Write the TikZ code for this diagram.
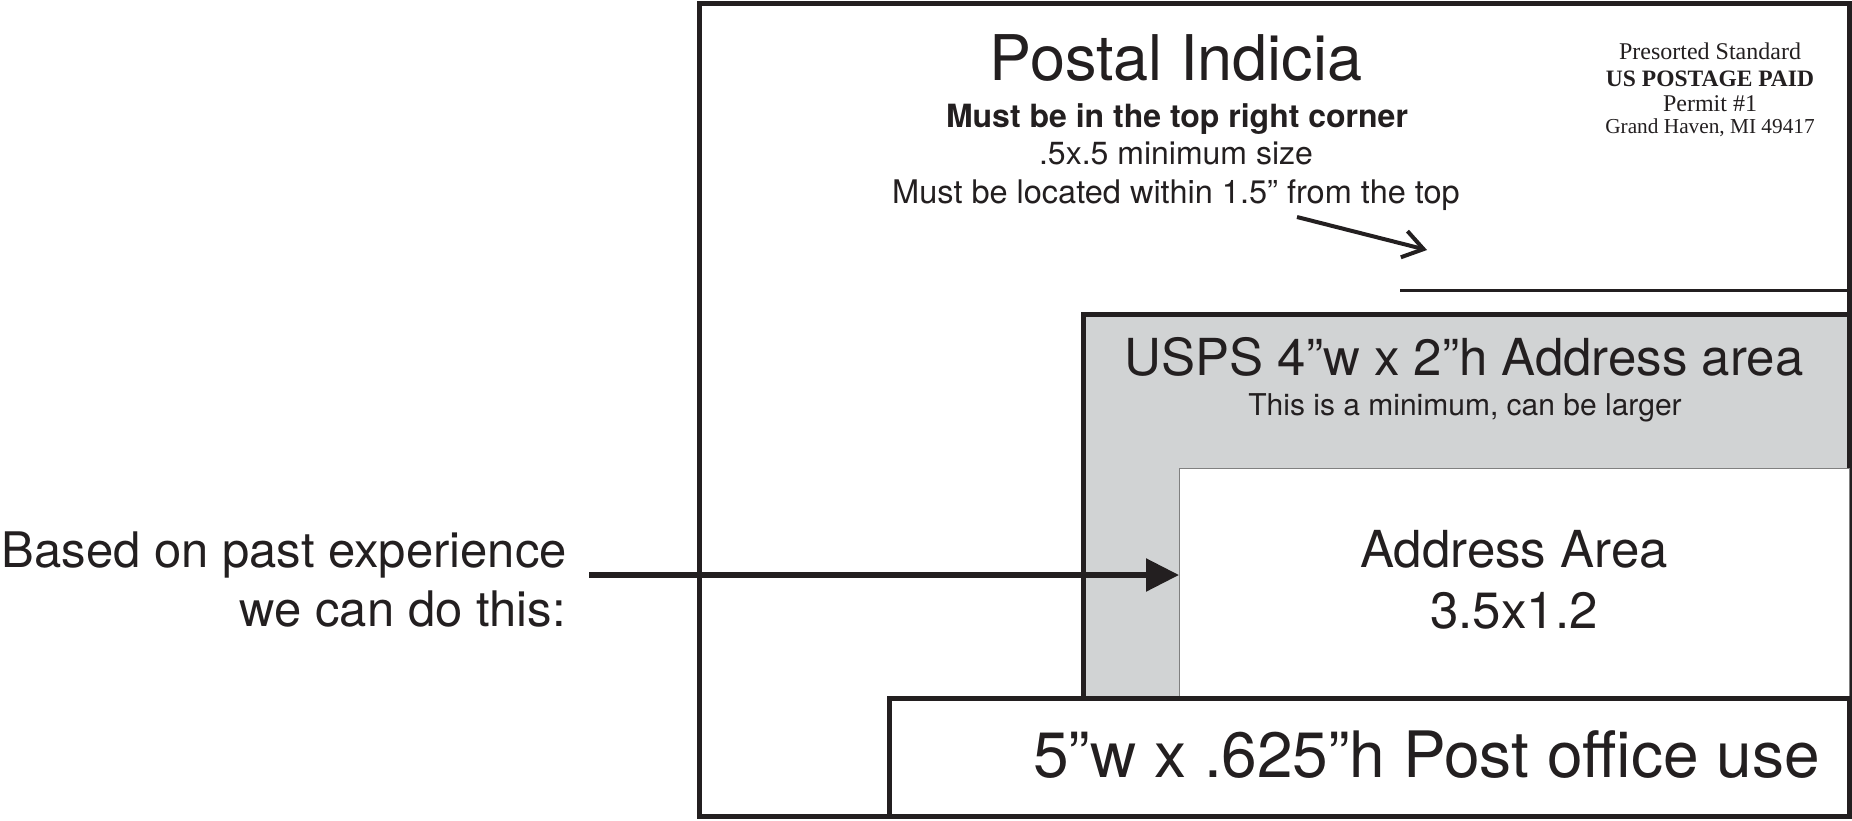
\documentclass[tikz,border=0pt]{standalone}
\usepackage{fontspec}
\setmainfont{TeX Gyre Heros}
\newfontfamily\timesfont{Liberation Serif}
\usetikzlibrary{arrows.meta}
\definecolor{ink}{HTML}{231F20}
\definecolor{areagray}{HTML}{D1D3D4}
\newcommand{\fsz}[1]{\fontsize{#1}{#1}\selectfont}
\begin{document}
\begin{tikzpicture}[x=1pt,y=-1pt,
    heavy/.style = {draw=ink,line width=5pt},
    txt/.style = {text=ink,inner sep=0pt,anchor=base},
    bigarrow/.style = {draw=ink,line width=5.5pt,-{Triangle[length=33pt,width=32pt]}},
    pointer/.style = {draw=ink,line width=4pt,-{Straight Barb[length=20pt,width=27pt]}}]
    \useasboundingbox (0,0) rectangle (1852,820);

    % card and the three areas
    \draw[heavy,fill=white] (699,3) rectangle (1849,816);
    \draw[ink,line width=3pt] (1400,290) -- (1849,290);
    \draw[heavy,fill=areagray] (1083,314) rectangle (1849,698);
    \node[draw=gray,line width=1pt,fill=white,inner sep=0pt,anchor=north west,
        minimum width=670pt,minimum height=230pt] (addrbox) at (1179,468) {};
    \draw[heavy,fill=white] (889,698) rectangle (1849,816);

    % indicia
    \node[txt,font=\fsz{63}] (title) at (1176,80) {Postal Indicia};
    \node[txt,font=\fsz{32}\bfseries] (corner) at (1177,127.5) {Must be in the top right corner};
    \node[txt,font=\fsz{32}] (minsize) at (1176,164) {.5x.5 minimum size};
    \node[txt,font=\fsz{32.5}] (within) at (1176,203) {Must be located within 1.5” from the top};
    \node[txt,font=\timesfont\fsz{24}] (presort) at (1710,59) {Presorted Standard};
    \node[txt,font=\timesfont\fsz{23.5}\bfseries] (paid) at (1710,86) {US POSTAGE PAID};
    \node[txt,font=\timesfont\fsz{24}] (permit) at (1710,111) {Permit \#1};
    \node[txt,font=\timesfont\fsz{21.3}] (city) at (1710,133) {Grand Haven, MI 49417};
    \coordinate (ptrstart) at (1297,217);
    \coordinate (ptrtip) at (1427,250);
    \draw[pointer] (ptrstart) -- (ptrtip);

    % address areas
    \node[txt,font=\fsz{51}] (usps) at (1464,375) {USPS 4”w x 2”h Address area};
    \node[txt,font=\fsz{30}] (minimum) at (1465,415) {This is a minimum, can be larger};
    \node[txt,font=\fsz{51}] (addr) at (1514,567) {Address Area};
    \node[txt,font=\fsz{51}] (addrsize) at (1514,628) {3.5x1.2};
    \node[txt,anchor=base east,font=\fsz{64}] (pouse) at (1820,777) {5”w x .625”h Post office use};

    % note on the left
    \node[txt,anchor=base east,font=\fsz{49}] (past) at (567,567) {Based on past experience};
    \node[txt,anchor=base east,font=\fsz{49}] (dothis) at (566,626) {we can do this:};
    \coordinate (pastend) at (589,575);
    \draw[bigarrow] (pastend) -- (addrbox.west |- pastend);
\end{tikzpicture}
\end{document}
